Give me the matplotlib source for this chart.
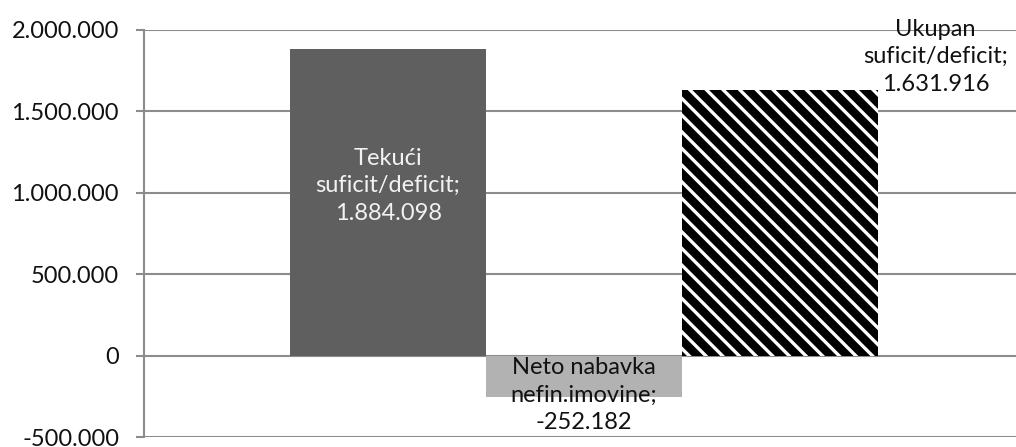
import matplotlib
matplotlib.use("Agg")
import matplotlib.pyplot as plt
from matplotlib.ticker import FuncFormatter

categories = ["Tekući\nsuficit/deficit;", "Neto nabavka\nnefin.imovine;", "Ukupan\nsuficit/deficit;"]
values = [1884098, -252182, 1631916]
value_labels = ["1.884.098", "-252.182", "1.631.916"]
yticks = [-500000, 0, 500000, 1000000, 1500000, 2000000]

plt.rcParams['font.family'] = ['Lato', 'DejaVu Sans']
plt.rcParams['hatch.linewidth'] = 2.4

fig = plt.figure(figsize=(10.16, 4.47), dpi=100)
ax = fig.add_axes([144/1016, 10/447, 872/1016, 407/447])

grid_color = "#8c8c8c"
x = list(range(len(values)))
bars = ax.bar(x, values, width=1.0, linewidth=0, zorder=3)
bars[0].set_facecolor("#5f5f5f")
bars[1].set_facecolor("#b2b2b2")
bars[2].set_facecolor("black")
bars[2].set_edgecolor("white")
bars[2].set_hatch("\\\\")

ax.set_xlim(-1.245, 3.204)
ax.set_ylim(-500000, 2000000)
ax.set_yticks(yticks)
ax.yaxis.set_major_formatter(FuncFormatter(lambda v, p: f"{int(v):,}".replace(",", ".")))
ax.set_xticks([])
ax.grid(axis="y", color=grid_color, linewidth=1.5, zorder=0)
for s in ["top", "right", "bottom"]:
    ax.spines[s].set_visible(False)
ax.spines["left"].set_color(grid_color)
ax.spines["left"].set_linewidth(1.5)
fs = 17
ax.tick_params(axis="y", length=6, width=1.5, color=grid_color, labelsize=fs, pad=12, labelcolor="#111111")

ls = 1.38
# label 1: inside bar
ax.annotate(categories[0] + "\n" + value_labels[0], xy=(0, values[0] / 2), xytext=(0, 12),
            textcoords="offset points", ha="center", va="center", fontsize=fs,
            color="#f2f2f2", linespacing=ls, zorder=5)
# label 2
ax.annotate(categories[1] + "\n" + value_labels[1], xy=(1, values[1]), xytext=(0, 1),
            textcoords="offset points", ha="center", va="center", fontsize=fs,
            color="#111111", linespacing=ls, zorder=5, annotation_clip=False)
# label 3
ax.annotate(categories[2] + "\n" + value_labels[2], xy=(2, values[2]), xytext=(112, 24),
            textcoords="offset points", ha="center", va="center", fontsize=fs,
            color="#111111", linespacing=ls, zorder=5, annotation_clip=False)

fig.savefig("out.png", dpi=100)
